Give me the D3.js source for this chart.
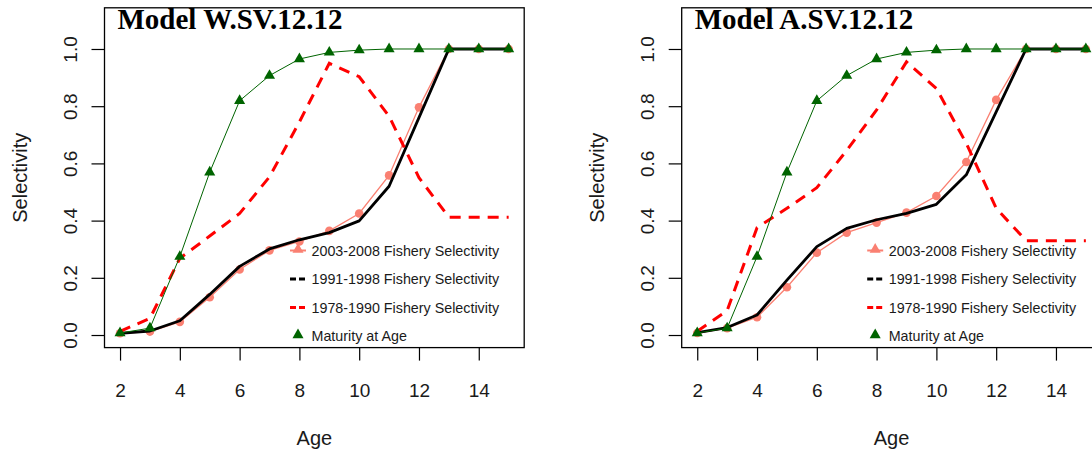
<!DOCTYPE html>
<html>
<head>
<meta charset="utf-8">
<script src="https://cdn.jsdelivr.net/npm/d3@7"></script>
<style>
  html, body { margin: 0; padding: 0; background: #fff; }
  svg { display: block; }
</style>
</head>
<body>
<svg id="chart" width="1092" height="455"></svg>
<script>
// ---------- data ----------
const ages = [2, 3, 4, 5, 6, 7, 8, 9, 10, 11, 12, 13, 14, 15];
const xTicks = [2, 4, 6, 8, 10, 12, 14];
const yTicks = [0.0, 0.2, 0.4, 0.6, 0.8, 1.0];
const panelTitles = ["Model W.SV.12.12", "Model A.SV.12.12"];
const legendLabels = ["2003-2008 Fishery Selectivity", "1991-1998 Fishery Selectivity",
                      "1978-1990 Fishery Selectivity", "Maturity at Age"];

// Model W.SV.12.12
const maturityW = [0.007, 0.024, 0.274, 0.569, 0.819, 0.907, 0.965, 0.988, 0.996, 1.0, 1.0, 1.0, 1.0, 1.0];
const sel0308W  = [0.006, 0.012, 0.046, 0.132, 0.229, 0.296, 0.327, 0.364, 0.425, 0.558, 0.796, 1.0, 1.0, 1.0];
const sel9198W  = [0.006, 0.014, 0.050, 0.142, 0.240, 0.301, 0.333, 0.358, 0.399, 0.520, 0.760, 1.0, 1.0, 1.0];
const sel7890W  = [0.013, 0.058, 0.268, 0.346, 0.425, 0.553, 0.745, 0.950, 0.903, 0.765, 0.550, 0.412, 0.412, 0.412];

// Model A.SV.12.12
const maturityA = [0.007, 0.024, 0.274, 0.569, 0.819, 0.907, 0.965, 0.988, 0.996, 1.0, 1.0, 1.0, 1.0, 1.0];
const sel0308A  = [0.007, 0.024, 0.062, 0.167, 0.288, 0.358, 0.393, 0.428, 0.486, 0.605, 0.822, 1.0, 1.0, 1.0];
const sel9198A  = [0.008, 0.026, 0.070, 0.192, 0.309, 0.373, 0.403, 0.425, 0.457, 0.560, 0.780, 1.0, 1.0, 1.0];
const sel7890A  = [0.013, 0.085, 0.375, 0.443, 0.515, 0.645, 0.787, 0.955, 0.862, 0.670, 0.443, 0.330, 0.330, 0.330];

const panels = [
  { title: panelTitles[0], mat: maturityW, s0308: sel0308W, s9198: sel9198W, s7890: sel7890W },
  { title: panelTitles[1], mat: maturityA, s0308: sel0308A, s9198: sel9198A, s7890: sel7890A }
];

// ---------- layout ----------
const panelPitch = 577.2;
const box = { left: 104.5, right: 524.2, top: 7.8, bottom: 347.6 };
const COL = { salmon: "#FA8072", black: "#000000", red: "#FF0000", green: "#006400", text: "#1a1a1a" };
const sansFont = "'Liberation Sans', Arial, sans-serif";

const svg = d3.select("#chart");

const x = d3.scaleLinear().domain([2 - 0.52, 15 + 0.52]).range([box.left, box.right]);
const y = d3.scaleLinear().domain([-0.044, 1.144]).range([box.bottom, box.top]);

function triPath(cx, cy, r) {
  const h = r * Math.sqrt(3) / 2;
  return `M${cx},${cy - r}L${cx + h},${cy + r / 2}L${cx - h},${cy + r / 2}Z`;
}

panels.forEach((p, i) => {
  const g = svg.append("g").attr("transform", `translate(${i * panelPitch},0)`);

  // box
  g.append("rect")
    .attr("x", box.left).attr("y", box.top)
    .attr("width", box.right - box.left).attr("height", box.bottom - box.top)
    .attr("fill", "none").attr("stroke", "#000").attr("stroke-width", 1.3);

  // x axis
  const xAxis = d3.axisBottom(x).tickValues(xTicks).tickSize(13).tickPadding(23).tickSizeOuter(0)
    .tickFormat(d3.format("d"));
  const gx = g.append("g").attr("transform", `translate(0,${box.bottom})`).call(xAxis);
  gx.select(".domain").remove();
  gx.selectAll(".tick line").attr("stroke", "#000").attr("stroke-width", 1.2);
  gx.selectAll(".tick text").attr("fill", COL.text).style("font-family", sansFont).style("font-size", "19px");

  // y axis
  const yAxis = d3.axisLeft(y).tickValues(yTicks).tickSize(13).tickSizeOuter(0).tickFormat(d3.format(".1f"));
  const gy = g.append("g").attr("transform", `translate(${box.left},0)`).call(yAxis);
  gy.select(".domain").remove();
  gy.selectAll(".tick line").attr("stroke", "#000").attr("stroke-width", 1.2);
  gy.selectAll(".tick text")
    .attr("x", null).attr("dy", null)
    .attr("transform", `translate(${70 - box.left},0) rotate(-90)`)
    .attr("dy", "0.36em")
    .attr("text-anchor", "middle")
    .attr("fill", COL.text).style("font-family", sansFont).style("font-size", "19px");

  // axis titles
  g.append("text").attr("x", (box.left + box.right) / 2).attr("y", 445)
    .attr("text-anchor", "middle").attr("fill", COL.text)
    .style("font-family", sansFont).style("font-size", "20px").text("Age");
  g.append("text").attr("transform", `translate(27,${(box.top + box.bottom) / 2}) rotate(-90)`)
    .attr("text-anchor", "middle").attr("fill", COL.text)
    .style("font-family", sansFont).style("font-size", "20px").text("Selectivity");

  // title
  g.append("text").attr("x", 117.5).attr("y", 28.5)
    .attr("fill", "#000")
    .style("font-family", "'Liberation Serif', 'Times New Roman', serif")
    .style("font-weight", "bold").style("font-size", "29px").text(p.title);

  const line = d3.line().x((d, k) => x(ages[k])).y(d => y(d));

  // 2003-2008 (salmon, circles)
  g.append("path").datum(p.s0308).attr("d", line)
    .attr("fill", "none").attr("stroke", COL.salmon).attr("stroke-width", 1.3);
  g.selectAll(".c0308").data(p.s0308).enter().append("circle")
    .attr("cx", (d, k) => x(ages[k])).attr("cy", d => y(d)).attr("r", 4.3)
    .attr("fill", COL.salmon);

  // 1991-1998 (black, thick)
  g.append("path").datum(p.s9198).attr("d", line)
    .attr("fill", "none").attr("stroke", COL.black).attr("stroke-width", 2.8)
    .attr("stroke-linejoin", "round");

  // 1978-1990 (red, dashed)
  g.append("path").datum(p.s7890).attr("d", line)
    .attr("fill", "none").attr("stroke", COL.red).attr("stroke-width", 3)
    .attr("stroke-dasharray", "11,8");

  // maturity (green, triangles)
  g.append("path").datum(p.mat).attr("d", line)
    .attr("fill", "none").attr("stroke", COL.green).attr("stroke-width", 1);
  g.selectAll(".tmat").data(p.mat).enter().append("path")
    .attr("d", (d, k) => triPath(x(ages[k]), y(d), 6.4))
    .attr("fill", COL.green);

  // legend
  const legY = [250.5, 279, 307.5, 336];
  const symX = 298, textX = 311.5;
  const lg = g.append("g");
  // item 1: salmon line + triangle
  lg.append("line").attr("x1", 290).attr("x2", 306).attr("y1", legY[0]).attr("y2", legY[0])
    .attr("stroke", COL.salmon).attr("stroke-width", 2);
  lg.append("path").attr("d", triPath(symX, legY[0] - 1, 6.4)).attr("fill", COL.salmon);
  // item 2: black dashed
  lg.append("line").attr("x1", 290).attr("x2", 305).attr("y1", legY[1]).attr("y2", legY[1])
    .attr("stroke", COL.black).attr("stroke-width", 3).attr("stroke-dasharray", "6,3");
  // item 3: red dashed
  lg.append("line").attr("x1", 290).attr("x2", 305).attr("y1", legY[2]).attr("y2", legY[2])
    .attr("stroke", COL.red).attr("stroke-width", 3).attr("stroke-dasharray", "6,3");
  // item 4: green triangle
  lg.append("path").attr("d", triPath(symX, legY[3] - 1, 6.4)).attr("fill", COL.green);

  lg.selectAll(".legtext").data(legendLabels).enter().append("text")
    .attr("x", textX).attr("y", (d, k) => legY[k]).attr("dy", "0.36em")
    .attr("fill", COL.text).style("font-family", sansFont).style("font-size", "14.3px")
    .text(d => d);
});
</script>
</body>
</html>
